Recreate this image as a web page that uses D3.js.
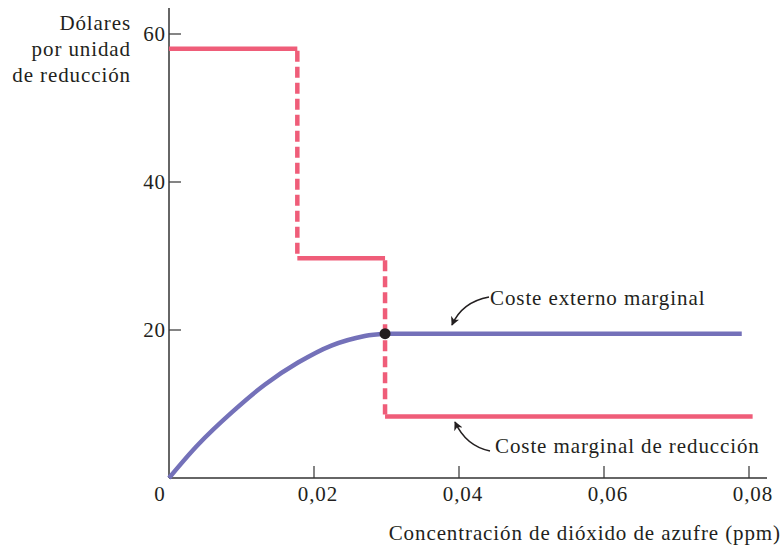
<!DOCTYPE html>
<html>
<head>
<meta charset="utf-8">
<script src="https://cdn.jsdelivr.net/npm/d3@7"></script>
<style>
body{margin:0;background:#fff;}
text{font-family:"Liberation Serif",serif;fill:#231f20;font-size:21px;letter-spacing:0.9px;}
</style>
</head>
<body>
<div id="chart"></div>
<script>
// tick values
var xTicks = [0.02, 0.04, 0.06, 0.08];
var yTicks = [20, 40, 60];

// coste marginal de reducción (escalones)
var mcrSteps = [
  {x0: 0, x1: 0.0177, y: 58.0},
  {x0: 0.0177, x1: 0.0298, y: 29.7},
  {x0: 0.0298, x1: 0.0805, y: 8.3}
];

// coste externo marginal
var cemCurve = [[0,0],[0.004,4.5],[0.0087,8.9],[0.0132,12.6],[0.0178,15.6],[0.0224,17.9],[0.027,19.2],[0.0298,19.5]];
var cemFlat = [[0.0298,19.5],[0.079,19.5]];
var eq = [0.0298, 19.5];

var w = 782, h = 553;
var red = "#ef5d79", blue = "#7471b9", ink = "#333";

var svg = d3.select("#chart").append("svg")
  .attr("width", w).attr("height", h);

var x = d3.scaleLinear().domain([0, 0.08]).range([169, 749]);
var y = d3.scaleLinear().domain([0, 60]).range([478, 34]);

// axes
svg.append("line").attr("x1", 169).attr("x2", 169).attr("y1", 8).attr("y2", 478)
  .attr("stroke", ink).attr("stroke-width", 1.5);
svg.append("line").attr("x1", 169).attr("x2", 767).attr("y1", 478).attr("y2", 478)
  .attr("stroke", ink).attr("stroke-width", 1.5);

svg.selectAll(".xt").data(xTicks).enter().append("line")
  .attr("x1", d => x(d)).attr("x2", d => x(d))
  .attr("y1", 478).attr("y2", 466)
  .attr("stroke", ink).attr("stroke-width", 1.2);
svg.selectAll(".xl").data(xTicks).enter().append("text")
  .attr("x", d => x(d) + 4).attr("y", 501)
  .attr("text-anchor", "middle")
  .text(d => d3.format(".2f")(d).replace(".", ","));
svg.append("text").attr("x", 160).attr("y", 501)
  .attr("text-anchor", "middle").text("0");

svg.selectAll(".yt").data(yTicks).enter().append("line")
  .attr("x1", 169).attr("x2", 181)
  .attr("y1", d => y(d)).attr("y2", d => y(d))
  .attr("stroke", ink).attr("stroke-width", 1.2);
svg.selectAll(".yl").data(yTicks).enter().append("text")
  .attr("x", 166).attr("y", d => y(d) + 7)
  .attr("text-anchor", "end")
  .text(d => d);

// y title
var yt = ["Dólares", "por unidad", "de reducción"];
svg.selectAll(".ytt").data(yt).enter().append("text")
  .attr("x", 131).attr("y", (d, i) => 30 + i * 26)
  .attr("text-anchor", "end")
  .text(d => d);

svg.append("text").attr("x", 781).attr("y", 540)
  .attr("text-anchor", "end")
  .text("Concentración de dióxido de azufre (ppm)");

// red steps
mcrSteps.forEach(function(s, i) {
  svg.append("line")
    .attr("x1", x(s.x0)).attr("x2", x(s.x1))
    .attr("y1", y(s.y)).attr("y2", y(s.y))
    .attr("stroke", red).attr("stroke-width", 4.5);
  if (i > 0) {
    var prev = mcrSteps[i - 1];
    svg.append("line")
      .attr("x1", x(s.x0)).attr("x2", x(s.x0))
      .attr("y1", y(prev.y) + 2).attr("y2", y(s.y) - 2)
      .attr("stroke", red).attr("stroke-width", 4.5)
      .attr("stroke-dasharray", "11,5");
  }
});

// blue curve
var line = d3.line().x(d => x(d[0])).y(d => y(d[1])).curve(d3.curveCatmullRom.alpha(0.5));
svg.append("path").attr("d", line(cemCurve))
  .attr("fill", "none").attr("stroke", blue).attr("stroke-width", 4.5);
svg.append("path").attr("d", d3.line().x(d => x(d[0])).y(d => y(d[1]))(cemFlat))
  .attr("fill", "none").attr("stroke", blue).attr("stroke-width", 4.5);

svg.append("circle").attr("cx", x(eq[0])).attr("cy", y(eq[1]))
  .attr("r", 5.5).attr("fill", "#231f20");

// annotations
svg.append("defs").append("marker")
  .attr("id", "ah").attr("viewBox", "0 0 10 10")
  .attr("refX", 9).attr("refY", 5)
  .attr("markerWidth", 9).attr("markerHeight", 9)
  .attr("markerUnits", "userSpaceOnUse")
  .attr("orient", "auto")
  .append("path").attr("d", "M0,0 L10,5 L0,10 L3,5 Z").attr("fill", "#231f20");

svg.append("path").attr("d", "M489,297 Q462,302 452,325")
  .attr("fill", "none").attr("stroke", "#231f20").attr("stroke-width", 1.6)
  .attr("marker-end", "url(#ah)");
svg.append("text").attr("x", 490).attr("y", 305)
  .text("Coste externo marginal");

svg.append("path").attr("d", "M490,451 Q466,446 455,422")
  .attr("fill", "none").attr("stroke", "#231f20").attr("stroke-width", 1.6)
  .attr("marker-end", "url(#ah)");
svg.append("text").attr("x", 495).attr("y", 453)
  .text("Coste marginal de reducción");
</script>
</body>
</html>
